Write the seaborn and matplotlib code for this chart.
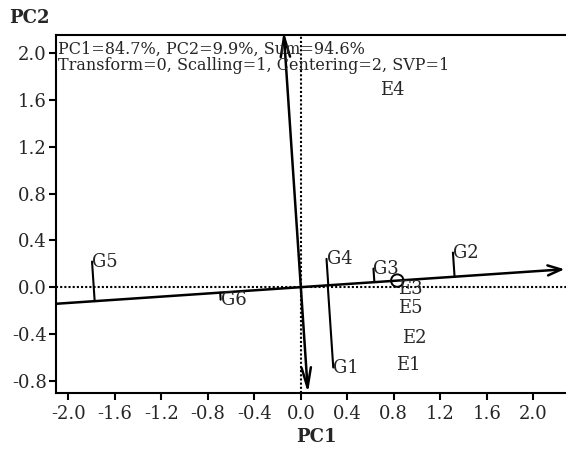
import numpy as np
import pandas as pd
import matplotlib
matplotlib.use("Agg")
import matplotlib.pyplot as plt
from matplotlib.patches import FancyArrowPatch
import seaborn as sns

# Genotype scores (PC1, PC2)
genotypes = ["G1", "G2", "G3", "G4", "G5", "G6"]
geno_pc1 = [0.279, 1.309, 0.625, 0.221, -1.797, -0.690]
geno_pc2 = [-0.687, 0.296, 0.159, 0.242, 0.219, -0.107]

# Environment scores (PC1, PC2)
environments = ["E1", "E2", "E3", "E4", "E5"]
env_pc1 = [0.820, 0.873, 0.833, 0.678, 0.833]
env_pc2 = [-0.665, -0.433, -0.013, 1.682, -0.176]

# Average environment (defines the average-environment axis)
mean_env_pc1 = 0.830
mean_env_pc2 = 0.056

pc1_pct = 84.7
pc2_pct = 9.9

x_ticks = [-2.0, -1.6, -1.2, -0.8, -0.4, 0.0, 0.4, 0.8, 1.2, 1.6, 2.0]
y_ticks = [-0.8, -0.4, 0.0, 0.4, 0.8, 1.2, 1.6, 2.0]
x_lim = (-2.107, 2.282)
y_lim = (-0.905, 2.156)
aea_tip_pc1 = 2.27

sns.set_theme(style="ticks")
plt.rcParams["font.family"] = ["DejaVu Serif"]

fig = plt.figure(figsize=(5.66, 4.5), dpi=100)
ax = fig.add_axes([56 / 566, 1 - 393 / 450, 510 / 566, 358 / 450])
ax.set_xlim(*x_lim)
ax.set_ylim(*y_lim)

# dotted reference axes through the origin
ax.axhline(0, color="black", lw=1.5, ls=(0, (1, 1)), zorder=1)
ax.axvline(0, color="black", lw=1.5, ls=(0, (1, 1)), zorder=1)

slope = mean_env_pc2 / mean_env_pc1

# average-environment abscissa
x_start = x_lim[0] - 0.2
ax.add_patch(FancyArrowPatch((x_start, slope * x_start),
                             (aea_tip_pc1, slope * aea_tip_pc1),
                             arrowstyle="->,head_length=0.8,head_width=0.3",
                             mutation_scale=12, lw=1.8, color="black",
                             shrinkA=0, shrinkB=0, zorder=3))
# perpendicular ordinate through the origin
y_top = y_lim[1] + 0.03
ax.add_patch(FancyArrowPatch((-slope * y_top, y_top),
                             (-slope * y_lim[0], y_lim[0]),
                             arrowstyle="<->,head_length=1.2,head_width=0.28",
                             mutation_scale=12, lw=1.8, color="black",
                             shrinkA=0, shrinkB=0, zorder=3))

# projections of genotypes onto the abscissa
u = np.array([1.0, slope]) / np.hypot(1.0, slope)
rows = []
for g, gx, gy in zip(genotypes, geno_pc1, geno_pc2):
    t = gx * u[0] + gy * u[1]
    rows.append({"g": g, "x": gx, "y": gy})
    rows.append({"g": g, "x": t * u[0], "y": t * u[1]})
proj = pd.DataFrame(rows)
sns.lineplot(data=proj, x="x", y="y", units="g", estimator=None, sort=False,
             color="black", lw=1.5, ax=ax, legend=False, zorder=3)

# average environment marker
sns.scatterplot(x=[mean_env_pc1], y=[mean_env_pc2], marker="o", s=80,
                facecolors="none", edgecolor="black", linewidth=1.4,
                ax=ax, legend=False, zorder=4)

for g, gx, gy in zip(genotypes, geno_pc1, geno_pc2):
    ax.text(gx, gy, g, ha="left", va="center", fontsize=13, zorder=5)
for e, ex, ey in zip(environments, env_pc1, env_pc2):
    ax.text(ex, ey, e, ha="left", va="center", fontsize=13, zorder=5)

ax.text(0.004, 0.961,
        f"PC1={pc1_pct}%, PC2={pc2_pct}%, Sum={pc1_pct + pc2_pct:.1f}%",
        transform=ax.transAxes, ha="left", va="center", fontsize=11.5)
ax.text(0.004, 0.916, "Transform=0, Scalling=1, Centering=2, SVP=1",
        transform=ax.transAxes, ha="left", va="center", fontsize=11.5)

ax.set_xticks(x_ticks)
ax.set_yticks(y_ticks)
ax.set_xticklabels([f"{v:.1f}" for v in x_ticks])
ax.set_yticklabels([f"{v:.1f}" for v in y_ticks])
ax.tick_params(axis="both", direction="out", length=5, width=1.5,
               labelsize=13, color="black")
ax.tick_params(axis="x", pad=3.5)
ax.tick_params(axis="y", pad=1.5)

for side in ["left", "bottom", "top"]:
    ax.spines[side].set_linewidth(1.5)
    ax.spines[side].set_color("black")
ax.spines["right"].set_visible(False)

ax.set_xlabel("PC1", fontsize=13, fontweight="bold", labelpad=2)
ax.xaxis.set_label_coords(0.51, -0.098)
ax.set_ylabel("")
fig.text(9 / 566, 1 - 18 / 450, "PC2", fontsize=13, fontweight="bold",
         ha="left", va="center")

fig.savefig("out.png", dpi=100)
